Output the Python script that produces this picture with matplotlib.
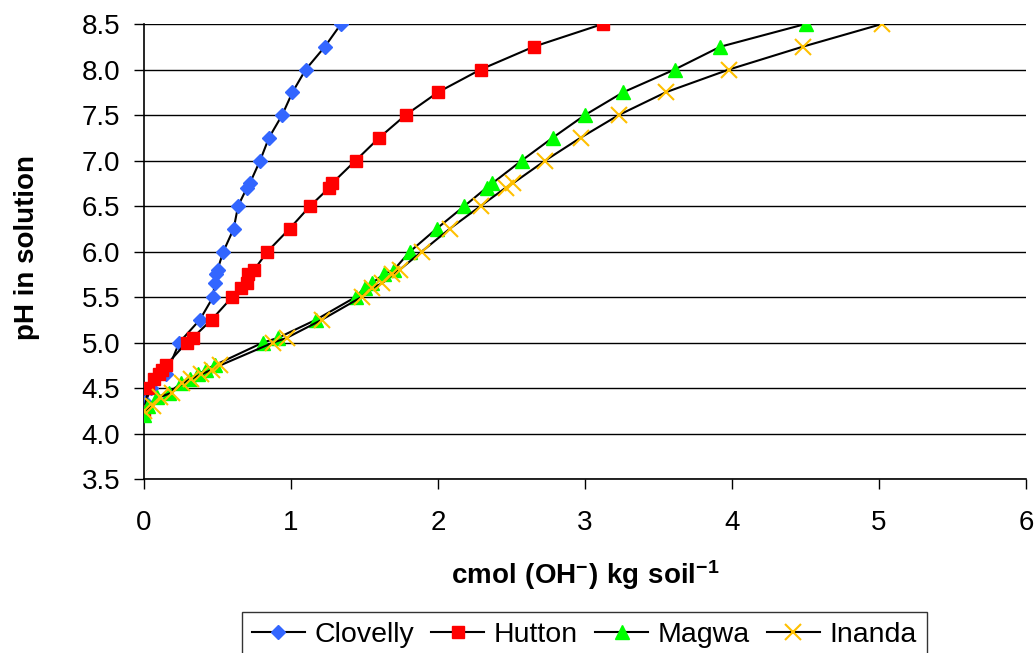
import matplotlib
matplotlib.use("Agg")
import matplotlib.pyplot as plt

plt.rcParams['font.family'] = ['Liberation Sans', 'DejaVu Sans']
plt.rcParams['mathtext.fontset'] = 'custom'
plt.rcParams['mathtext.rm'] = 'Liberation Sans'
plt.rcParams['mathtext.bf'] = 'Liberation Sans:bold'

# ---- data ----
clovelly_x = [0.0, 0.01, 0.05, 0.15, 0.24, 0.38, 0.47, 0.48, 0.49, 0.50, 0.54, 0.61, 0.64, 0.70, 0.72, 0.79, 0.85, 0.94, 1.01, 1.10, 1.23, 1.34]
clovelly_ph = [4.25, 4.35, 4.5, 4.65, 5.0, 5.25, 5.5, 5.65, 5.75, 5.8, 6.0, 6.25, 6.5, 6.7, 6.75, 7.0, 7.25, 7.5, 7.75, 8.0, 8.25, 8.5]

hutton_x = [0.0, 0.03, 0.07, 0.10, 0.12, 0.15, 0.29, 0.33, 0.46, 0.60, 0.66, 0.70, 0.71, 0.75, 0.84, 0.99, 1.13, 1.26, 1.28, 1.44, 1.60, 1.78, 2.0, 2.29, 2.65, 3.12]
hutton_ph = [4.25, 4.5, 4.6, 4.65, 4.7, 4.75, 5.0, 5.05, 5.25, 5.5, 5.6, 5.65, 5.75, 5.8, 6.0, 6.25, 6.5, 6.7, 6.75, 7.0, 7.25, 7.5, 7.75, 8.0, 8.25, 8.5]

magwa_x = [0.0, 0.03, 0.09, 0.17, 0.25, 0.31, 0.37, 0.42, 0.48, 0.81, 0.91, 1.17, 1.44, 1.50, 1.55, 1.63, 1.70, 1.81, 1.99, 2.18, 2.33, 2.37, 2.57, 2.78, 3.0, 3.26, 3.61, 3.92, 4.5]
magwa_ph = [4.2, 4.3, 4.4, 4.45, 4.55, 4.6, 4.65, 4.7, 4.75, 5.0, 5.05, 5.25, 5.5, 5.6, 5.65, 5.75, 5.8, 6.0, 6.25, 6.5, 6.7, 6.75, 7.0, 7.25, 7.5, 7.75, 8.0, 8.25, 8.5]

inanda_x = [0.0, 0.06, 0.11, 0.19, 0.26, 0.32, 0.39, 0.46, 0.52, 0.88, 0.97, 1.21, 1.48, 1.55, 1.62, 1.69, 1.74, 1.89, 2.08, 2.29, 2.46, 2.51, 2.73, 2.97, 3.23, 3.55, 3.98, 4.48, 5.02]
inanda_ph = [4.25, 4.3, 4.4, 4.45, 4.55, 4.6, 4.65, 4.7, 4.75, 5.0, 5.05, 5.25, 5.5, 5.6, 5.65, 5.75, 5.8, 6.0, 6.25, 6.5, 6.7, 6.75, 7.0, 7.25, 7.5, 7.75, 8.0, 8.25, 8.5]

x_ticks = [0, 1, 2, 3, 4, 5, 6]
y_ticks = [3.5, 4.0, 4.5, 5.0, 5.5, 6.0, 6.5, 7.0, 7.5, 8.0, 8.5]

W, H = 1036, 653
fig = plt.figure(figsize=(W/100, H/100), dpi=100)
ax = fig.add_axes([144/W, 1-479/H, (1026-144)/W, (479-24)/H])

ax.plot(clovelly_x, clovelly_ph, color='black', lw=1.5, marker='D', ms=7,
        mfc='#3366FF', mec='#3366FF', label='Clovelly', zorder=3)
ax.plot(hutton_x, hutton_ph, color='black', lw=1.5, marker='s', ms=8,
        mfc='#FF0000', mec='#FF0000', label='Hutton', zorder=3)
ax.plot(magwa_x, magwa_ph, color='black', lw=1.5, marker='^', ms=9.5,
        mfc='#00FF00', mec='#00FF00', label='Magwa', zorder=3)
ax.plot(inanda_x, inanda_ph, color='black', lw=1.5, marker='x', ms=11, mew=1.5,
        mfc='#FFC000', mec='#FFC000', label='Inanda', zorder=3)

ax.set_xlim(0, 6)
ax.set_ylim(3.5, 8.5)
ax.set_xticks(x_ticks)
ax.set_yticks(y_ticks)
ax.set_xticklabels([str(t) for t in x_ticks])
ax.set_yticklabels([f"{t:.1f}" for t in y_ticks])
ax.tick_params(axis='both', labelsize=20, direction='out', length=7, width=1, color='black')
ax.tick_params(axis='x', pad=15)
ax.tick_params(axis='y', pad=10)
ax.grid(axis='y', color='black', lw=1)
ax.set_axisbelow(True)
for s in ['top', 'right']:
    ax.spines[s].set_visible(False)
for s in ['left', 'bottom']:
    ax.spines[s].set_color('black')
    ax.spines[s].set_linewidth(1.2)

fig.text(27/W, 1-247/H, 'pH in solution', fontsize=20, fontweight='bold',
         rotation=90, ha='center', va='center')
fig.text(585/W, 1-575/H, r'$\mathbf{cmol\ (OH^{-})\ kg\ soil^{-1}}$', fontsize=20,
         ha='center', va='center')

leg = fig.legend(loc='upper left', bbox_to_anchor=(242/W, 1-612/H), ncol=4,
                 fontsize=20.5, frameon=True, fancybox=False, edgecolor='black',
                 handlelength=1.85, columnspacing=0.6, handletextpad=0.35,
                 borderpad=0.35, borderaxespad=0.0)
leg.get_frame().set_linewidth(1.0)

fig.savefig('out.png', dpi=100)
